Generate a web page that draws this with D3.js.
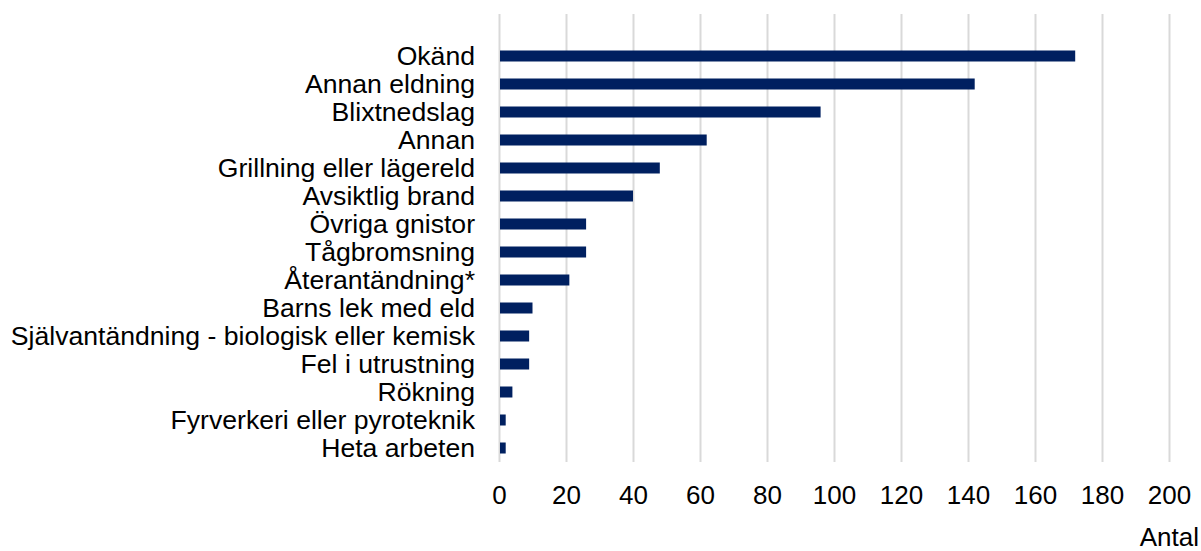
<!DOCTYPE html>
<html lang="sv">
<head>
<meta charset="utf-8">
<title>Orsak</title>
<script src="https://cdn.jsdelivr.net/npm/d3@7"></script>
<style>
  body { margin: 0; background: #fff; }
  svg text { font-family: "Liberation Sans", Arial, sans-serif; fill: #000; }
  .axis path { display: none; }
  .axis line { stroke: #d9d9d9; stroke-width: 2; }
</style>
</head>
<body>
<script>
  var categories = ["Okänd", "Annan eldning", "Blixtnedslag", "Annan", "Grillning eller lägereld",
    "Avsiktlig brand", "Övriga gnistor", "Tågbromsning", "Återantändning*", "Barns lek med eld",
    "Självantändning - biologisk eller kemisk", "Fel i utrustning", "Rökning",
    "Fyrverkeri eller pyroteknik", "Heta arbeten"];
  var values = [172, 142, 96, 62, 48, 40, 26, 26, 21, 10, 9, 9, 4, 2, 2];
  var xTicks = [0, 20, 40, 60, 80, 100, 120, 140, 160, 180, 200];

  var w = 1201, h = 551;
  var plotLeft = 499, plotRight = 1169, plotTop = 14, plotBottom = 462;

  var svg = d3.select("body").append("svg")
    .attr("width", w)
    .attr("height", h);

  var xScale = d3.scaleLinear()
    .domain([0, 200])
    .range([plotLeft, plotRight]);

  // first band row is left empty, like in the original chart
  var yScale = d3.scaleBand()
    .domain(categories)
    .range([plotTop + 28, plotBottom]);

  var xAxis = d3.axisBottom(xScale)
    .tickValues(xTicks)
    .tickSize(-(plotBottom - plotTop))
    .tickPadding(24);

  var gx = svg.append("g")
    .attr("class", "axis")
    .attr("transform", "translate(0," + plotBottom + ")")
    .call(xAxis);
  gx.selectAll("text").attr("font-size", "26px").attr("font-family", null);

  var barH = 11;
  svg.selectAll("rect.bar")
    .data(values)
    .enter()
    .append("rect")
    .attr("class", "bar")
    .attr("x", xScale(0) + 1)
    .attr("y", function(d, i) { return yScale(categories[i]) + yScale.bandwidth() / 2 - barH / 2; })
    .attr("width", function(d) { return xScale(d) - xScale(0) - 1; })
    .attr("height", barH)
    .attr("fill", "#002060");

  svg.selectAll("text.cat")
    .data(categories)
    .enter()
    .append("text")
    .attr("class", "cat")
    .attr("x", 475)
    .attr("y", function(d) { return yScale(d) + yScale.bandwidth() / 2; })
    .attr("dy", "0.35em")
    .attr("text-anchor", "end")
    .attr("font-size", "26.6px")
    .text(function(d) { return d; });

  svg.append("text")
    .attr("x", 1199)
    .attr("y", 546)
    .attr("text-anchor", "end")
    .attr("font-size", "26px")
    .text("Antal");
</script>
</body>
</html>
